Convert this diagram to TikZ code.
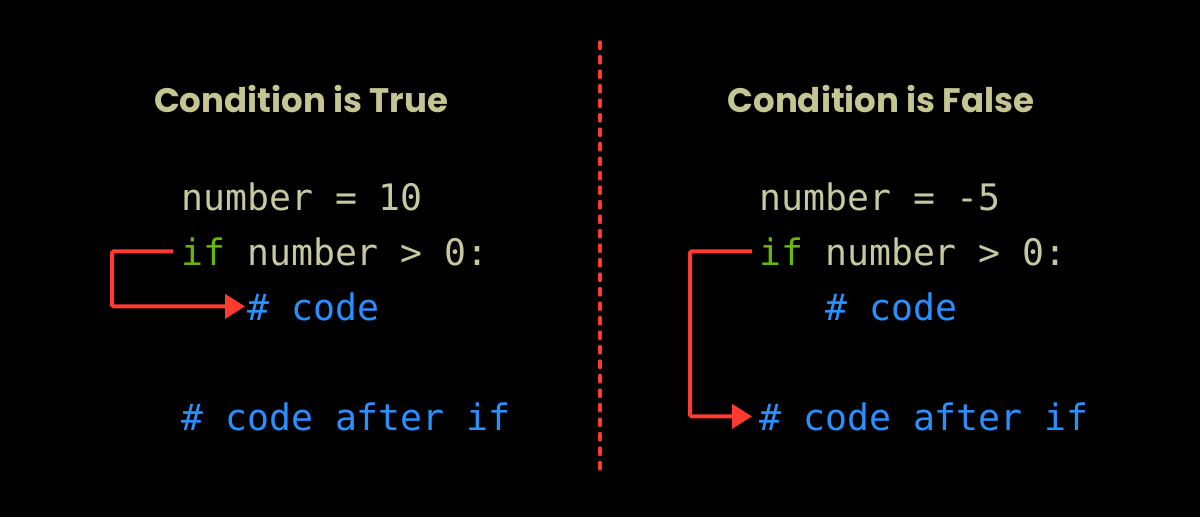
\documentclass[tikz,border=0pt]{standalone}
\usepackage{fontspec}
\usetikzlibrary{arrows.meta}
\newfontfamily\codefont{DejaVu Sans Mono}
\newfontfamily\titlefont{Poppins}
\definecolor{titlecol}{RGB}{197,197,145}
\definecolor{plaincol}{RGB}{200,200,160}
\definecolor{kwcol}{RGB}{102,184,10}
\definecolor{cmtcol}{RGB}{40,144,255}
\definecolor{redcol}{RGB}{255,59,48}
\tikzset{
  title/.style={anchor=base, inner sep=0pt, text=titlecol, font=\titlefont\bfseries\fontsize{34}{40}\selectfont},
  code/.style={anchor=base west, inner sep=0pt, text=plaincol, font=\codefont\fontsize{36.5}{40}\selectfont},
  flow/.style={draw=redcol, line width=4pt, rounded corners=1.5pt, -{Triangle[length=20pt,width=24pt]}},
  divider/.style={draw=redcol, line width=3.3pt, line cap=round, dash pattern=on 6.5pt off 8pt}
}
\begin{document}
\begin{tikzpicture}[x=1pt,y=-1pt]
\fill[black] (0,0) rectangle (1200,517);
\useasboundingbox (0,0) rectangle (1200,517);
% titles
\node[title] (t1) at (301,112) {Condition is True};
\node[title] (t2) at (881,112) {Condition is False};
% divider
\coordinate (dtop) at (600,42);
\coordinate (dbot) at (600,472);
\draw[divider] (dtop) -- (dbot);
% left code
\node[code] (l1) at (181,210) {number = 10};
\node[code] (l2) at (181,265) {\textcolor{kwcol}{if} number > 0:};
\node[code] (l3) at (247,320) {\textcolor{cmtcol}{\# code}};
\node[code] (l4) at (181,430) {\textcolor{cmtcol}{\# code after if}};
% right code
\node[code] (r1) at (759,210) {number = -5};
\node[code] (r2) at (759,265) {\textcolor{kwcol}{if} number > 0:};
\node[code] (r3) at (825,320) {\textcolor{cmtcol}{\# code}};
\node[code] (r4) at (759,430) {\textcolor{cmtcol}{\# code after if}};
% arrows
\draw[flow] ([xshift=-8pt]l2.west) -- ++(-61,0) |- ([xshift=-2pt]l3.west);
\draw[flow] ([xshift=-7pt]r2.west) -- ++(-62,0) |- ([xshift=-7pt]r4.west);
\end{tikzpicture}
\end{document}
